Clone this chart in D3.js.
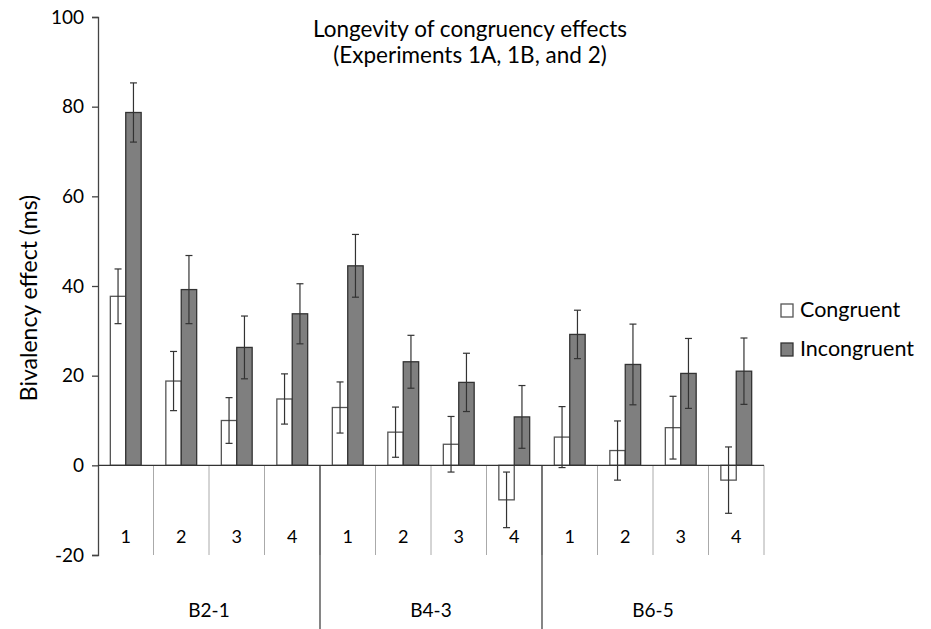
<!DOCTYPE html>
<html>
<head>
<meta charset="utf-8">
<script src="https://cdn.jsdelivr.net/npm/d3@7"></script>
<style>
  body { margin: 0; background: #fff; }
  text { font-family: Lato, "Open Sans", sans-serif; fill: #000; }
</style>
</head>
<body>
<div class="canvas"></div>
<script>
const groups = ["B2-1", "B4-3", "B6-5"];
const blocks = ["1", "2", "3", "4"];
const seriesNames = ["Congruent", "Incongruent"];

const congruent = [37.7, 18.8, 10.0, 14.8, 12.9, 7.4, 4.7, -7.7, 6.3, 3.3, 8.4, -3.3];
const congruentErr = [6.1, 6.6, 5.1, 5.6, 5.7, 5.6, 6.2, 6.2, 6.8, 6.6, 7.0, 7.4];
const incongruent = [78.7, 39.2, 26.3, 33.8, 44.5, 23.1, 18.5, 10.8, 29.2, 22.5, 20.5, 21.0];
const incongruentErr = [6.6, 7.6, 7.0, 6.7, 7.0, 5.9, 6.5, 7.0, 5.4, 9.0, 7.8, 7.4];
const yTicks = [-20, 0, 20, 40, 60, 80, 100];

const width = 931, height = 629;
const plotLeft = 98, plotRight = 764, plotTop = 17, plotBottom = 555;

const svg = d3.select(".canvas").append("svg")
  .attr("width", width).attr("height", height);

// one slot per group/block pair
const cats = [];
groups.forEach(g => blocks.forEach(b => cats.push(g + "|" + b)));

const rows = cats.map((c, i) => ({
  cat: c,
  block: c.split("|")[1],
  values: [
    {name: "Congruent", v: congruent[i], e: congruentErr[i]},
    {name: "Incongruent", v: incongruent[i], e: incongruentErr[i]}
  ]
}));

const x0 = d3.scaleBand().domain(cats).range([plotLeft, plotRight]).padding(0);
const x1 = d3.scaleBand().domain(seriesNames).range([0, x0.bandwidth()])
  .paddingInner(0).paddingOuter(0.8);
const y = d3.scaleLinear().domain([-20, 100]).range([plotBottom, plotTop]);
const xg = d3.scaleBand().domain(groups).range([plotLeft, plotRight]);

const fill = {Congruent: "#ffffff", Incongruent: "#7f7f7f"};
const stroke = {Congruent: "#555", Incongruent: "#333"};

// Title
svg.append("text").attr("x", 470).attr("y", 37)
  .attr("text-anchor", "middle").attr("font-size", 22.5)
  .text("Longevity of congruency effects");
svg.append("text").attr("x", 470).attr("y", 63)
  .attr("text-anchor", "middle").attr("font-size", 22.5)
  .text("(Experiments 1A, 1B, and 2)");

// Y axis
const yAxis = svg.append("g").attr("transform", `translate(${plotLeft},0)`)
  .call(d3.axisLeft(y).tickValues(yTicks).tickSize(6).tickPadding(8)
    .tickFormat(d => String(d)));
yAxis.select(".domain").attr("stroke", "#444").attr("stroke-width", 1.3);
yAxis.selectAll(".tick line").attr("stroke", "#444").attr("stroke-width", 1.3);
yAxis.selectAll(".tick text").attr("font-size", 19)
  .attr("font-family", "Lato, sans-serif").attr("fill", "#000");

svg.append("text")
  .attr("transform", `translate(37,${(y(100) + y(-20)) / 2 + 12}) rotate(-90)`)
  .attr("text-anchor", "middle").attr("font-size", 23)
  .text("Bivalency effect (ms)");

// category dividers
svg.selectAll(".catline").data(cats.slice(1))
  .enter().append("line")
  .attr("x1", d => x0(d)).attr("x2", d => x0(d))
  .attr("y1", y(0)).attr("y2", y(-20))
  .attr("stroke", "#aaa").attr("stroke-width", 1);
svg.append("line")
  .attr("x1", plotRight).attr("x2", plotRight)
  .attr("y1", y(0)).attr("y2", y(-20))
  .attr("stroke", "#aaa");

// group dividers
svg.selectAll(".grpline").data(groups.slice(1))
  .enter().append("line")
  .attr("x1", d => xg(d)).attr("x2", d => xg(d))
  .attr("y1", y(0)).attr("y2", height)
  .attr("stroke", "#444").attr("stroke-width", 1.3);

// block labels
svg.selectAll(".blk").data(rows)
  .enter().append("text")
  .attr("x", d => x0(d.cat) + x0.bandwidth() / 2)
  .attr("y", 543).attr("text-anchor", "middle").attr("font-size", 18)
  .text(d => d.block);

// group labels
svg.selectAll(".grp").data(groups)
  .enter().append("text")
  .attr("x", d => xg(d) + xg.bandwidth() / 2)
  .attr("y", 617).attr("text-anchor", "middle").attr("font-size", 19)
  .text(d => d);

// bars
const cg = svg.selectAll(".cat").data(rows)
  .enter().append("g")
  .attr("transform", d => `translate(${x0(d.cat)},0)`);

cg.selectAll("rect").data(d => d.values)
  .enter().append("rect")
  .attr("x", d => x1(d.name))
  .attr("width", x1.bandwidth())
  .attr("y", d => y(Math.max(0, d.v)))
  .attr("height", d => Math.abs(y(d.v) - y(0)))
  .attr("fill", d => fill[d.name])
  .attr("stroke", d => stroke[d.name]).attr("stroke-width", 1.3);

// error bars
const eb = cg.selectAll(".err").data(d => d.values)
  .enter().append("g")
  .attr("stroke", "#333").attr("stroke-width", 1.2);
eb.append("line")
  .attr("x1", d => x1(d.name) + x1.bandwidth() / 2)
  .attr("x2", d => x1(d.name) + x1.bandwidth() / 2)
  .attr("y1", d => y(d.v + d.e)).attr("y2", d => y(d.v - d.e));
[1, -1].forEach(s => {
  eb.append("line")
    .attr("x1", d => x1(d.name) + x1.bandwidth() / 2 - 3.5)
    .attr("x2", d => x1(d.name) + x1.bandwidth() / 2 + 3.5)
    .attr("y1", d => y(d.v + s * d.e)).attr("y2", d => y(d.v + s * d.e));
});

// zero line
svg.append("line")
  .attr("x1", plotLeft).attr("x2", plotRight)
  .attr("y1", y(0)).attr("y2", y(0))
  .attr("stroke", "#333").attr("stroke-width", 1.3);

// legend
const lg = svg.selectAll(".leg").data(seriesNames)
  .enter().append("g")
  .attr("transform", (d, i) => `translate(781,${304 + i * 39})`);
lg.append("rect").attr("width", 12).attr("height", 13)
  .attr("fill", d => fill[d]).attr("stroke", d => stroke[d]).attr("stroke-width", 1.3);
lg.append("text").attr("x", 19).attr("y", 13).attr("font-size", 21.5)
  .text(d => d);
</script>
</body>
</html>
